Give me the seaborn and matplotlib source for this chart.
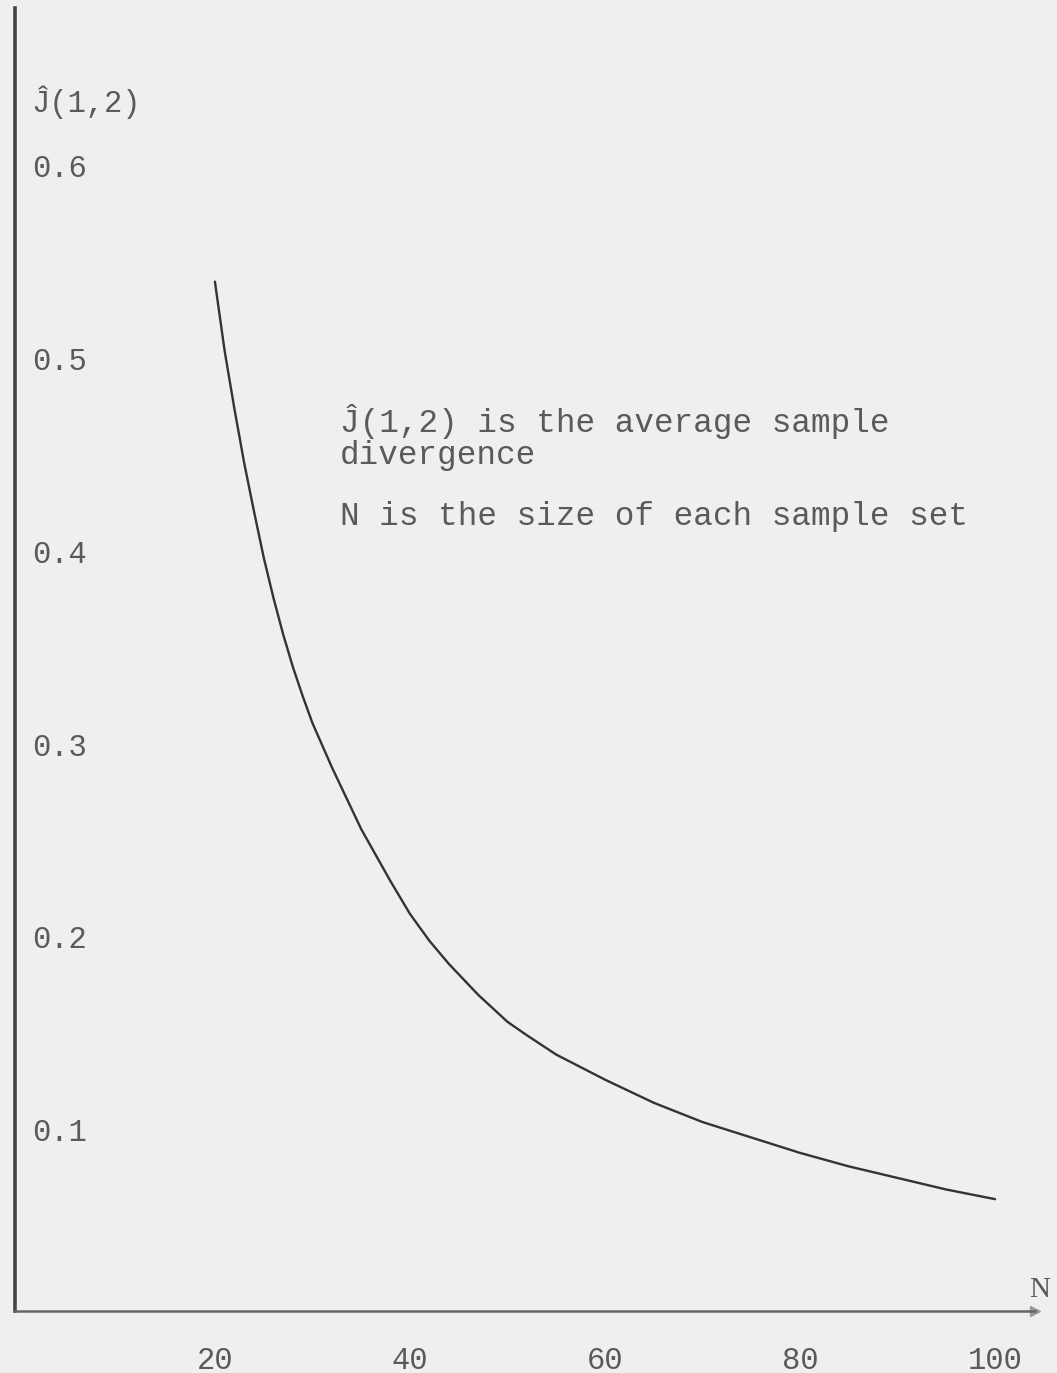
# curva da divergencia media J(1,2) em funcao de N

import pandas as pd
import numpy as np
import seaborn as sns
import matplotlib.pyplot as plt

# valores (N e divergencia media)
tamanho_n = [20, 21, 22, 23, 24, 25, 26, 27, 28, 29, 30, 32, 35, 38, 40, 42, 44, 47, 50,
             52, 55, 60, 65, 70, 75, 80, 85, 90, 95, 100]
divergencia = [0.534, 0.498, 0.468, 0.440, 0.415, 0.391, 0.370, 0.351, 0.334, 0.319,
               0.305, 0.282, 0.250, 0.223, 0.206, 0.192, 0.180, 0.164, 0.150,
               0.143, 0.133, 0.120, 0.108, 0.098, 0.090, 0.082, 0.075, 0.069,
               0.063, 0.058]

ticks_x = [20, 40, 60, 80, 100]
ticks_y = [0.1, 0.2, 0.3, 0.4, 0.5, 0.6]

df = pd.DataFrame({'N': tamanho_n, 'J': divergencia})

sns.set_theme(style='white')
plt.rcParams['font.family'] = ['Liberation Mono', 'DejaVu Sans Mono']

fundo = '#efefef'
cinza_texto = '#5a5a5a'

fig = plt.figure(figsize=(10.57, 13.73), dpi=100, facecolor=fundo)
ax = fig.add_axes([0.0142, 0.0452, 0.9650, 0.9490], facecolor=fundo)

sns.lineplot(data=df, x='N', y='J', color='#333333', linewidth=1.7, ax=ax)

ax.set_xlim(-0.5, 104.1)
ax.set_ylim(0, 0.676)

# eixos: so esquerda e baixo
for lado in ['top', 'right']:
    ax.spines[lado].set_visible(False)
ax.spines['left'].set_color('#444444')
ax.spines['left'].set_linewidth(2.6)
ax.spines['bottom'].set_color('#666666')
ax.spines['bottom'].set_linewidth(1.8)

ax.set_xticks(ticks_x)
ax.set_xticklabels([str(v) for v in ticks_x], fontsize=22, color=cinza_texto)
ax.set_yticks(ticks_y)
ax.set_yticklabels([f'{v:.1f}' for v in ticks_y], fontsize=22, color=cinza_texto)
for lbl in ax.get_yticklabels():
    lbl.set_horizontalalignment('left')
    lbl.set_verticalalignment('top')

ax.tick_params(axis='x', direction='inout', length=10, width=1.2, colors='#777777',
               pad=20, labelcolor=cinza_texto)
ax.tick_params(axis='y', direction='inout', length=8, width=1.2, colors='#777777',
               pad=-16, labelcolor=cinza_texto)
ax.set_xlabel('')
ax.set_ylabel('')

# seta no fim do eixo x
ax.plot(1, 0, '>', color='#999999', markersize=7, transform=ax.get_yaxis_transform(),
        clip_on=False)

# rotulos dos eixos (Ĵ = J com circunflexo)
ax.text(104.6, 0.004, 'N', fontsize=21, color=cinza_texto, ha='center', va='bottom',
        family='Liberation Serif')
ax.text(1.2, 0.627, 'Ĵ(1,2)', fontsize=22, color=cinza_texto, ha='left', va='center')

# legenda em texto
ax.text(32.8, 0.4614, 'Ĵ(1,2) is the average sample', fontsize=23.5, color=cinza_texto,
        ha='left', va='center')
ax.text(32.8, 0.444, 'divergence', fontsize=23.5, color=cinza_texto, ha='left', va='center')
ax.text(32.8, 0.412, 'N is the size of each sample set', fontsize=23.5, color=cinza_texto,
        ha='left', va='center')

plt.savefig('out.png', dpi=100, facecolor=fundo)
